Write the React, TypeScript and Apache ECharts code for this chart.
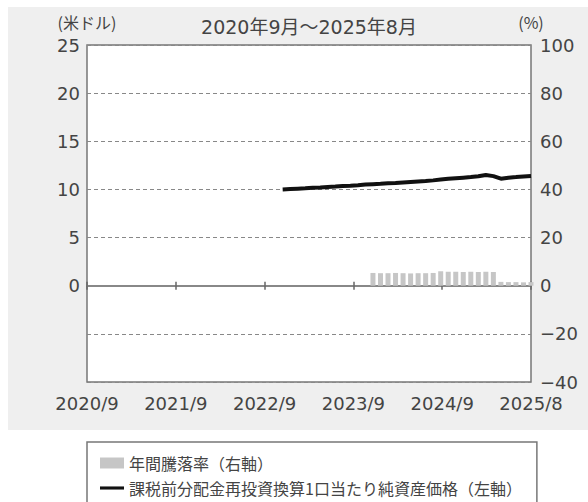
import { useEffect, useRef } from 'react';
import * as echarts from 'echarts';

const TITLE = '2020年9月～2025年8月';
const LEFT_UNIT = '(米ドル)';
const RIGHT_UNIT = '(%)';
const X_TICK_LABELS = ['2020/9', '2021/9', '2022/9', '2023/9', '2024/9', '2025/8'];
const BAR_NAME = '年間騰落率（右軸）';
const LINE_NAME = '課税前分配金再投資換算1口当たり純資産価格（左軸）';

const FIRST_YEAR = 2020;
const FIRST_MONTH = 9;
const MONTH_COUNT = 60;

// NAV (US$), monthly from 2022/11
const NAV_START = '2022/11';
const NAV_VALUES = [
  10.0, 10.04, 10.08, 10.12, 10.17, 10.21, 10.26, 10.3, 10.35, 10.39,
  10.44, 10.5, 10.55, 10.59, 10.64, 10.68, 10.73, 10.78, 10.83, 10.88,
  10.94, 11.02, 11.1, 11.16, 11.22, 11.28, 11.36, 11.5, 11.38, 11.12,
  11.22, 11.28, 11.35, 11.4,
];

// Annual return (%), monthly from 2023/11
const RETURN_START = '2023/11';
const RETURN_VALUES = [
  5.3, 5.2, 5.2, 5.3, 5.2, 5.1, 5.2, 5.2, 5.3, 6.0,
  5.8, 5.8, 5.7, 5.8, 5.7, 5.8, 5.7, 1.6, 1.5, 1.5,
  1.4, 1.5,
];

const LEFT_MIN = -10;
const LEFT_MAX = 25;
const LEFT_STEP = 5;
const RIGHT_MIN = -40;
const RIGHT_MAX = 100;
const RIGHT_STEP = 20;

function buildMonths(): string[] {
  const out: string[] = [];
  for (let k = 0; k < MONTH_COUNT; k++) {
    const idx = FIRST_MONTH - 1 + k;
    out.push(`${FIRST_YEAR + Math.floor(idx / 12)}/${(idx % 12) + 1}`);
  }
  return out;
}

export default function App() {
  const ref = useRef<HTMLDivElement>(null);

  useEffect(() => {
    if (!ref.current) return;
    const chart = echarts.init(ref.current, undefined, { renderer: 'svg' });
    const months = buildMonths();
    const navStart = months.indexOf(NAV_START);
    const retStart = months.indexOf(RETURN_START);
    const navData = NAV_VALUES.map((v, j) => [months[navStart + j], v]);
    const retData = RETURN_VALUES.map((v, j) => [months[retStart + j], v]);

    const textColor = '#444';
    const numFont = 'DejaVu Sans, Noto Sans CJK JP, sans-serif';
    const jpFont = 'Noto Sans CJK JP, sans-serif';

    const zeroAxisBase = {
      type: 'value' as const,
      min: 0,
      max: X_TICK_LABELS.length - 1,
      interval: 1,
      position: 'bottom' as const,
      axisLabel: { show: false },
      splitLine: { show: false },
    };

    chart.setOption({
      animation: false,
      backgroundColor: '#ffffff',
      graphic: {
        elements: [
          {
            type: 'rect',
            z: -100,
            silent: true,
            shape: { x: 8, y: 7, width: 580, height: 423 },
            style: { fill: '#efefef' },
          },
          {
            type: 'text',
            x: 309,
            y: 27,
            style: {
              text: TITLE,
              align: 'center',
              verticalAlign: 'middle',
              fontSize: 19,
              fontFamily: numFont,
              fill: textColor,
            },
          },
        ],
      },
      grid: {
        left: 87,
        right: 57,
        top: 45,
        bottom: 120,
        show: true,
        backgroundColor: '#ffffff',
        borderColor: '#777',
        borderWidth: 1.5,
      },
      legend: {
        orient: 'vertical',
        left: 87,
        top: 442,
        height: 120,
        padding: [13, 15, 40, 13],
        itemGap: 9,
        itemWidth: 24,
        itemHeight: 11,
        backgroundColor: '#ffffff',
        borderColor: '#777',
        borderWidth: 1.5,
        textStyle: { fontSize: 16, fontFamily: jpFont, color: textColor },
        data: [
          { name: BAR_NAME, icon: 'rect' },
          { name: LINE_NAME, icon: 'path://M0,0 L27,0 L27,3.5 L0,3.5 Z', itemStyle: { color: '#111' } },
        ],
      },
      xAxis: [
        {
          type: 'category',
          data: months,
          boundaryGap: false,
          show: false,
        },
        {
          type: 'value',
          min: 0,
          max: X_TICK_LABELS.length - 1,
          interval: 1,
          position: 'bottom',
          axisLine: { show: false, onZero: false },
          axisTick: { show: false },
          splitLine: { show: false },
          axisLabel: {
            margin: 12,
            fontSize: 18,
            fontFamily: numFont,
            color: textColor,
            formatter: (v: number) => X_TICK_LABELS[v] ?? '',
          },
        },
        {
          ...zeroAxisBase,
          axisLine: { show: true, onZero: true, onZeroAxisIndex: 0, lineStyle: { color: '#888', width: 2 } },
          axisTick: { show: true, inside: false, length: 4, lineStyle: { color: '#666', width: 1.5 } },
        },
        {
          ...zeroAxisBase,
          axisLine: { show: true, onZero: true, onZeroAxisIndex: 1, lineStyle: { color: '#888', width: 2 } },
          axisTick: { show: true, inside: true, length: 4, lineStyle: { color: '#666', width: 1.5 } },
        },
      ],
      yAxis: [
        {
          type: 'value',
          position: 'left',
          min: LEFT_MIN,
          max: LEFT_MAX,
          interval: LEFT_STEP,
          name: LEFT_UNIT,
          nameGap: 15,
          nameTextStyle: { fontSize: 16, lineHeight: 16, fontFamily: jpFont, color: textColor },
          axisLine: { show: false, onZero: false },
          axisTick: { show: false },
          axisLabel: {
            margin: 7,
            fontSize: 18,
            lineHeight: 14,
            fontFamily: numFont,
            color: textColor,
            formatter: (v: number) => (v < 0 ? '' : String(v)),
          },
          splitLine: {
            show: true,
            lineStyle: { color: '#888', width: 1.2, type: [4, 3] },
          },
        },
        {
          type: 'value',
          position: 'right',
          min: RIGHT_MIN,
          max: RIGHT_MAX,
          interval: RIGHT_STEP,
          name: RIGHT_UNIT,
          nameGap: 15,
          nameTextStyle: { fontSize: 16, lineHeight: 16, fontFamily: jpFont, color: textColor },
          axisLine: { show: false, onZero: false },
          axisTick: { show: false },
          splitLine: { show: false },
          axisLabel: {
            margin: 9,
            fontSize: 18,
            lineHeight: 14,
            fontFamily: numFont,
            color: textColor,
            formatter: (v: number) => (v < 0 ? '\u2212' + Math.abs(v) : String(v)),
          },
        },
      ],
      series: [
        {
          name: BAR_NAME,
          type: 'bar',
          xAxisIndex: 0,
          yAxisIndex: 1,
          barWidth: 5,
          itemStyle: { color: '#c6c6c6' },
          data: retData,
        },
        {
          name: LINE_NAME,
          type: 'line',
          xAxisIndex: 0,
          yAxisIndex: 0,
          symbol: 'none',
          lineStyle: { color: '#111', width: 4 },
          itemStyle: { color: '#111' },
          data: navData,
          z: 5,
        },
      ],
    });

    return () => chart.dispose();
  }, []);

  return (
    <div
      ref={ref}
      style={{ position: 'absolute', left: 0, top: 0, width: 588, height: 502, background: '#fff' }}
    />
  );
}
